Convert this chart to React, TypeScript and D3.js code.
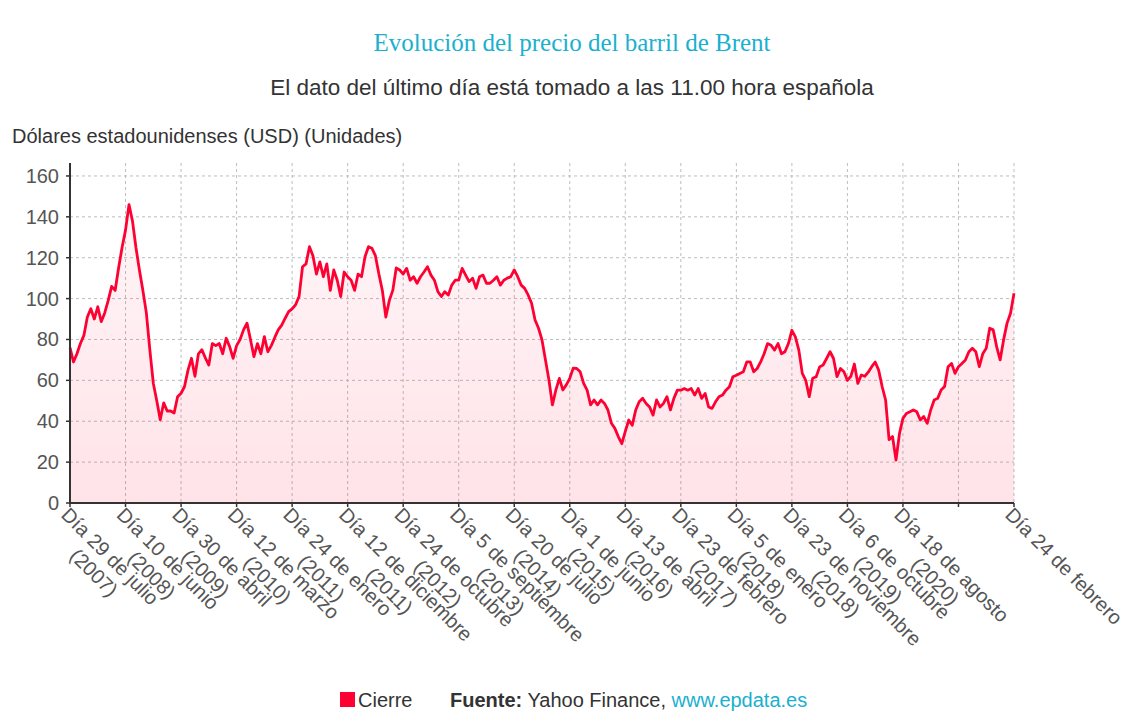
import * as d3 from 'd3';
import React, { Component, RefObject } from 'react';

// Cierre diario del Brent (USD)
const closeValues: number[] = [
    76, 69, 73, 78, 82, 91, 95, 90, 96, 88.7, 93, 99, 106, 104, 115, 125, 133.5,
    146, 138, 125, 114, 104, 93, 75, 58.6, 50, 40.7, 49, 45, 45, 44, 52, 53.7,
    57, 65, 70.8, 62, 73, 75, 71, 67.5, 78, 77, 78, 73, 80.6, 76.5, 70.8, 77,
    80, 84.7, 88, 80, 71.6, 78, 73, 81.4, 74, 77, 81, 84.7, 87, 90.4, 93.6, 95,
    97, 101, 115.6, 117, 125.4, 121, 112, 118, 110.7, 117, 104, 114, 109, 101, 113, 110.7,
    109, 104, 112, 110.7, 120.5, 125.4, 124.6, 121, 112, 104, 91, 99, 104, 115, 114, 112,
    114.8, 109, 110.7, 107.5, 110.7, 113, 115.6, 111.5, 109, 103.4, 101, 103.4, 101.8, 106.6, 109, 109,
    114.8, 111.5, 108.3, 110, 105, 110.7, 111.5, 107.5, 107.5, 109, 110.7, 106.6, 109, 110, 110.7, 114,
    110.7, 106.6, 105, 101.8, 97.7, 89.5, 85.5, 79.8, 70, 60.2, 48, 55.3, 61, 55.3, 57.8, 61,
    66, 65.8, 64.2, 58.5, 55.2, 48, 50.4, 48, 50.4, 48.7, 45.5, 39, 36.5, 32.4, 29, 35,
    40.6, 38, 45.5, 49.5, 51.2, 48.7, 47, 43, 50.4, 47, 48.7, 52, 45.5, 51.2, 55.2, 55.2,
    56, 55.2, 56, 52.8, 56, 51.2, 53.6, 47, 46.3, 49.5, 52, 52.8, 55.2, 56.9, 61.8, 62.5,
    63.4, 64.2, 69, 69, 64.2, 65.8, 69, 73, 78, 77.2, 74.8, 78, 73, 74, 78, 84.5,
    81.3, 74.8, 63.4, 60, 52, 61, 61.8, 66.6, 67.5, 70.7, 74, 70.7, 61.8, 65.8, 64.2, 60,
    62, 68, 58.5, 62.6, 62, 64, 66.7, 69, 65, 57, 50.4, 31, 32.5, 21, 34, 41.4,
    43.8, 44.6, 45.5, 44.6, 40.6, 42.3, 39, 45.5, 50.4, 51.2, 55.3, 57, 66.7, 68.3, 63.4, 66.7,
    68.3, 70, 74, 75.7, 74, 66.7, 73, 75.7, 85.5, 84.7, 76.5, 70, 79.8, 88, 92.8, 102.6,
];

// etiquetas del eje X (null = marca sin etiqueta)
const tickDays: (string | null)[] = [
    'Día 29 de julio', 'Día 10 de junio', 'Día 30 de abril', 'Día 12 de marzo',
    'Día 24 de enero', 'Día 12 de diciembre', 'Día 24 de octubre', 'Día 5 de septiembre',
    'Día 20 de julio', 'Día 1 de junio', 'Día 13 de abril', 'Día 23 de febrero',
    'Día 5 de enero', 'Día 23 de noviembre', 'Día 6 de octubre', 'Día 18 de agosto',
    null, 'Día 24 de febrero',
];
const tickYears: (string | null)[] = [
    '(2007)', '(2008)', '(2009)', '(2010)', '(2011)', '(2011)', '(2012)', '(2013)',
    '(2014)', '(2015)', '(2016)', '(2017)', '(2018)', '(2018)', '(2019)', '(2020)',
    null, null,
];
const yTicks: number[] = [0, 20, 40, 60, 80, 100, 120, 140, 160];

const title = 'Evolución del precio del barril de Brent';
const subtitle = 'El dato del último día está tomado a las 11.00 hora española';
const yTitle = 'Dólares estadounidenses (USD) (Unidades)';

const RED = '#ff0033';
const CYAN = '#1ab0d0';
const SANS = '"Liberation Sans", Arial, sans-serif';

export default class App extends Component<{}> {
    private ref: RefObject<SVGGElement>;

    constructor(props: {}) {
        super(props);
        this.ref = React.createRef();
    }

    componentDidMount() {
        this.init();
    }

    init() {
        const left = 70, right = 1014, top = 163, bottom = 503;
        const node = this.ref.current;
        const g = d3.select(node);
        g.selectAll('*').remove();

        const n = closeValues.length;
        const x = d3.scaleLinear().domain([0, n - 1]).range([left, right]);
        const y = d3.scaleLinear().domain([0, 160]).range([bottom, bottom - 160 * 2.044]);
        const step = (n - 1) / (tickDays.length - 1);
        const tickIdx = tickDays.map((_, i) => i * step);

        const defs = g.append('defs');
        const grad = defs.append('linearGradient')
            .attr('id', 'fillGrad').attr('x1', 0).attr('x2', 0).attr('y1', 0).attr('y2', 1);
        grad.append('stop').attr('offset', '0%').attr('stop-color', RED).attr('stop-opacity', 0.04);
        grad.append('stop').attr('offset', '100%').attr('stop-color', RED).attr('stop-opacity', 0.11);

        // rejilla
        g.selectAll('.hgrid')
            .data(yTicks.filter(v => v > 0))
            .join('line')
            .attr('x1', left).attr('x2', right)
            .attr('y1', d => y(d)).attr('y2', d => y(d))
            .attr('stroke', '#bdbdbd').attr('stroke-width', 1).attr('stroke-dasharray', '3,3');
        g.selectAll('.vgrid')
            .data(tickIdx.slice(1))
            .join('line')
            .attr('x1', d => x(d)).attr('x2', d => x(d))
            .attr('y1', top).attr('y2', bottom)
            .attr('stroke', '#bdbdbd').attr('stroke-width', 1).attr('stroke-dasharray', '3,3');

        const area = d3.area<number>()
            .x((_, i) => x(i))
            .y0(y(0))
            .y1(d => y(d));
        const line = d3.line<number>()
            .x((_, i) => x(i))
            .y(d => y(d));

        g.append('path').datum(closeValues).attr('d', area).attr('fill', 'url(#fillGrad)');
        g.append('path').datum(closeValues).attr('d', line)
            .attr('fill', 'none').attr('stroke', RED).attr('stroke-width', 2.8)
            .attr('stroke-linejoin', 'round');

        // ejes
        g.append('line').attr('x1', left).attr('x2', left).attr('y1', top).attr('y2', bottom + 1)
            .attr('stroke', '#333').attr('stroke-width', 2);
        g.append('line').attr('x1', left).attr('x2', right).attr('y1', bottom).attr('y2', bottom)
            .attr('stroke', '#333').attr('stroke-width', 2);

        g.selectAll('.ytick')
            .data(yTicks)
            .join('line')
            .attr('x1', left - 4).attr('x2', left)
            .attr('y1', d => y(d)).attr('y2', d => y(d))
            .attr('stroke', '#333').attr('stroke-width', 1.5);
        g.selectAll('.ylabel')
            .data(yTicks)
            .join('text')
            .attr('x', 59).attr('y', d => y(d) + 7)
            .attr('text-anchor', 'end')
            .attr('font-family', SANS).attr('font-size', 20).attr('fill', '#555')
            .text(d => d);

        g.selectAll('.xtick')
            .data(tickIdx)
            .join('line')
            .attr('x1', d => x(d)).attr('x2', d => x(d))
            .attr('y1', bottom).attr('y2', bottom + 4)
            .attr('stroke', '#333').attr('stroke-width', 1.5);

        tickDays.forEach((day, i) => {
            if (!day) return;
            const lab = g.append('g')
                .attr('transform', `translate(${x(tickIdx[i]) - 10},516) rotate(45)`);
            const t1 = lab.append('text')
                .attr('font-family', SANS).attr('font-size', 20).attr('fill', '#555')
                .text(day);
            const year = tickYears[i];
            if (year) {
                const w = (t1.node() as SVGTextElement).getComputedTextLength();
                lab.append('text')
                    .attr('x', w / 2).attr('y', 23)
                    .attr('text-anchor', 'middle')
                    .attr('font-family', SANS).attr('font-size', 20).attr('fill', '#555')
                    .text(year);
            }
        });
    }

    render() {
        return (
            <svg width={1144} height={726} style={{ position: 'absolute', left: 0, top: 0, background: '#fff' }}>
                <text x={572} y={51} textAnchor="middle" fontFamily='"Liberation Serif", "Times New Roman", serif'
                    fontSize={25} fill={CYAN}>{title}</text>
                <text x={572} y={95} textAnchor="middle" fontFamily={SANS} fontSize={22.5} fill="#333">{subtitle}</text>
                <text x={12} y={143} fontFamily={SANS} fontSize={20} fill="#333">{yTitle}</text>
                <g ref={this.ref} />
                <rect x={340} y={692} width={15} height={15} fill={RED} />
                <text x={358} y={707} fontFamily={SANS} fontSize={20} fill="#333">Cierre</text>
                <text x={450} y={707} fontFamily={SANS} fontSize={20} fill="#333">
                    <tspan fontWeight="bold">Fuente:</tspan>
                    <tspan> Yahoo Finance, </tspan>
                    <tspan fill={CYAN}>www.epdata.es</tspan>
                </text>
            </svg>
        );
    }
}
